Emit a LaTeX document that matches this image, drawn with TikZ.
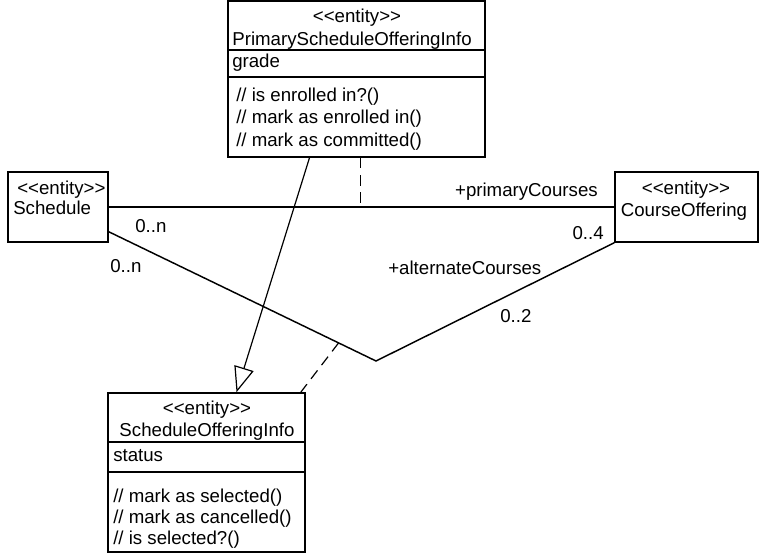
\documentclass[tikz,border=0pt]{standalone}
\usepackage{fontspec}
\setmainfont{Liberation Sans}
\usetikzlibrary{arrows.meta,calc}
\newcommand{\stereo}[1]{<\kern0pt<#1>\kern0pt>}

\begin{document}
\begin{tikzpicture}[
  x=0.75pt, y=-0.75pt,
  font=\fontsize{14}{16}\selectfont,
  cls/.style={draw, line width=1.1pt, inner sep=0pt},
  txt/.style={inner sep=0pt, anchor=base west},
  ctxt/.style={inner sep=0pt, anchor=base},
  assoc/.style={line width=1.1pt},
  link/.style={line width=0.9pt, dash pattern=on 8pt off 5pt},
  gen/.style={line width=0.9pt, -{Triangle[open, length=19pt, width=15pt]}}]
\useasboundingbox (0,0) rectangle (767,555);
% classes
\node[cls, minimum width=192.75pt, minimum height=117pt] (prim) at (356.5,79) {};
\node[cls, minimum width=75pt, minimum height=52.5pt] (sched) at (58,207) {};
\node[cls, minimum width=107.25pt, minimum height=52.5pt] (course) at (686.5,207) {};
\node[cls, minimum width=147.75pt, minimum height=119.25pt] (soi) at (206.5,472.5) {};
\draw[cls] (prim.west |- 0,50) -- (prim.east |- 0,50);
\draw[cls] (prim.west |- 0,77) -- (prim.east |- 0,77);
\draw[cls] (soi.west |- 0,442) -- (soi.east |- 0,442);
\draw[cls] (soi.west |- 0,472) -- (soi.east |- 0,472);
% class texts
\node[ctxt] (primST) at (357,23) {\stereo{entity}};
\node[ctxt] (primNM) at (352,46) {PrimaryScheduleOfferingInfo};
\node[txt] (primAT) at (232,68) {grade};
\node[txt] (primOP1) at (236,102) {// is enrolled in?()};
\node[txt] (primOP2) at (236,124) {// mark as enrolled in()};
\node[txt] (primOP3) at (236,147) {// mark as committed()};
\node[txt] (schedST) at (17,195) {\stereo{entity}};
\node[txt] (schedNM) at (13,215) {Schedule};
\node[ctxt] (courseST) at (686,195) {\stereo{entity}};
\node[ctxt] (courseNM) at (684,217) {CourseOffering};
\node[ctxt] (soiST) at (207,415) {\stereo{entity}};
\node[ctxt] (soiNM) at (207,437) {ScheduleOfferingInfo};
\node[txt] (soiAT) at (113,461) {status};
\node[txt] (soiOP1) at (113,502) {// mark as selected()};
\node[txt] (soiOP2) at (113,523) {// mark as cancelled()};
\node[txt] (soiOP3) at (113,544) {// is selected?()};
% associations
\coordinate (bend) at (376,361);
\draw[assoc] (sched.east) -- (course.west);
\draw[assoc] (sched.-26) -- (bend) -- (course.south west);
\node[txt, anchor=base east] (primRole) at (598,197) {+primaryCourses};
\node[txt] (primMulA) at (135,233) {0..n};
\node[txt, anchor=base east] (primMulB) at (604,240) {0..4};
\node[txt] (altMulA) at (110,273) {0..n};
\node[txt] (altRole) at (388,275) {+alternateCourses};
\node[txt] (altMulB) at (500,323) {0..2};
% association classes
\coordinate (pa) at ($(prim.south)+(4,0)$);
\draw[link] (pa) -- (pa |- sched.east);
\coordinate (lk) at ($(sched.-26)!0.86!(bend)$);
\draw[link] (lk) -- ($(soi.north east)+(-5,0)$);
% generalization
\draw[gen] ($(prim.south)+(-47,0)$) -- ($(soi.north)+(30,0)$);
\end{tikzpicture}
\end{document}
